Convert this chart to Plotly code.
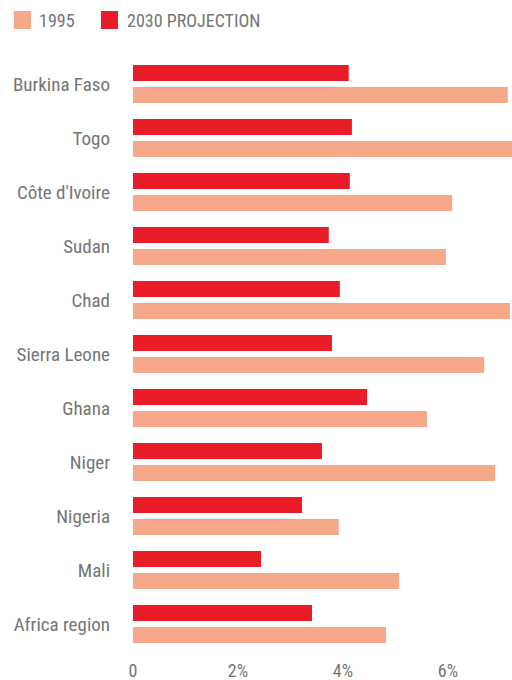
import plotly.graph_objects as go

countries = ["Burkina Faso", "Togo", "Côte d'Ivoire", "Sudan", "Chad", "Sierra Leone",
             "Ghana", "Niger", "Nigeria", "Mali", "Africa region"]
values_1995 = [7.14, 7.3, 6.08, 5.96, 7.18, 6.69, 5.6, 6.9, 3.92, 5.07, 4.82]
values_2030 = [4.11, 4.17, 4.13, 3.73, 3.94, 3.79, 4.46, 3.6, 3.22, 2.44, 3.41]
tick_vals = [0, 2, 4, 6]
tick_text = ["0", "2%", "4%", "6%"]
legend_names = ["1995", "2030 PROJECTION"]

RED = "#E81D28"
SALMON = "#F7A88B"
GRAY = "#757575"
FONT = "Roboto Condensed, Liberation Sans Narrow, DejaVu Sans Condensed, Roboto, sans-serif"

W, H = 512, 680
L, T, B = 133, 57, 29
PW, PH = W - L, H - T - B


def px_x(p):
    return (p - L) / PW


def px_y(p):
    return 1 - (p - T) / PH


fig = go.Figure()
fig.add_trace(go.Bar(y=countries, x=values_2030, orientation="h", name=legend_names[1],
                     marker=dict(color=RED, line=dict(width=0)), showlegend=False))
fig.add_trace(go.Bar(y=countries, x=values_1995, orientation="h", name=legend_names[0],
                     marker=dict(color=SALMON, line=dict(width=0)), showlegend=False))

# custom legend (large square swatches)
legend_items = [(legend_names[0], SALMON, 14, 37), (legend_names[1], RED, 101, 125)]
for name, col, sx, tx in legend_items:
    fig.add_shape(type="rect", xref="paper", yref="paper",
                  x0=px_x(sx), x1=px_x(sx + 17), y0=px_y(11), y1=px_y(29),
                  fillcolor=col, line=dict(width=0))
    fig.add_annotation(text=name, xref="paper", yref="paper", x=px_x(tx), y=px_y(20),
                       xanchor="left", yanchor="middle", showarrow=False,
                       font=dict(size=18, color=GRAY, family=FONT))

fig.update_layout(
    width=W, height=H,
    margin=dict(l=L, r=0, t=T, b=B, autoexpand=False),
    barmode="group", bargap=0.185, bargroupgap=0.273,
    paper_bgcolor="white", plot_bgcolor="white",
    font=dict(family=FONT, color=GRAY, size=19),
    showlegend=False,
    xaxis=dict(range=[0, 7.22], tickvals=tick_vals, ticktext=tick_text, showgrid=False,
               zeroline=False, showline=False, ticks="", ticklabelstandoff=7,
               tickfont=dict(size=18), automargin=False, fixedrange=True),
    yaxis=dict(autorange="reversed", showgrid=False, zeroline=False, showline=False,
               ticks="", ticklabelstandoff=22, automargin=False, fixedrange=True),
)

fig.write_html("out.html", config={"displayModeBar": False},
               post_script="document.body.style.margin='0';document.body.style.overflow='hidden';")
